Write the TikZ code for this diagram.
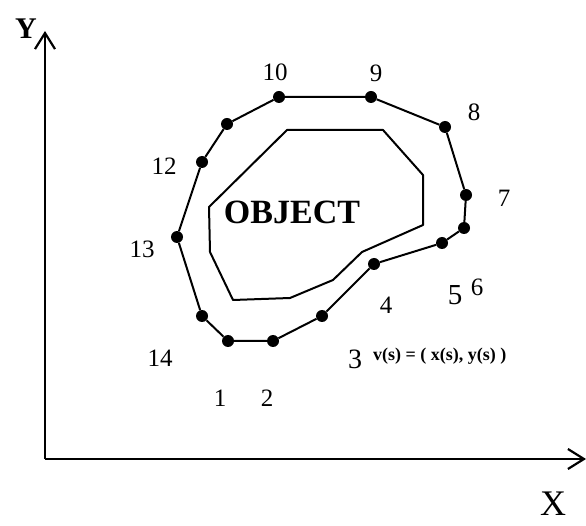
\documentclass[tikz,border=0pt]{standalone}
\usepackage{fontspec}
\setmainfont{Liberation Serif}
\usetikzlibrary{arrows.meta}
\usetikzlibrary{positioning}

\begin{document}
\begin{tikzpicture}[x=1pt, y=-1pt,
    dot/.style={circle, fill=black, inner sep=0pt, minimum size=12pt},
    snake/.style={line width=2pt, line join=round},
    axis/.style={line width=2.4pt, -{Straight Barb[length=16pt, width=20pt, line width=2.2pt]}},
    num/.style={font=\fontsize{25}{28}\selectfont},
    ]
    \useasboundingbox (0,0) rectangle (586,526);

    % Axes
    \coordinate (origin) at (45,459);
    \coordinate (ytip) at (45,31);
    \coordinate (xtip) at (586,459);
    \draw [axis] (origin) -- (ytip);
    \draw [axis] (origin) -- (xtip);
    \node [font=\fontsize{30}{32}\selectfont\bfseries] (ylab) at (26,29) {Y};
    \node [anchor=base, inner sep=0pt, font=\fontsize{36}{38}\selectfont] (xlab) at (553,515) {X};

    % Object outline
    \draw [snake] (287,130) -- (383,130) -- (423,175) -- (423,225) -- (362,252)
        -- (333,280) -- (290,298) -- (233,300) -- (210,252) -- (209,207) -- cycle;
    \node [font=\fontsize{34}{36}\selectfont\bfseries] (object) at (292,212) {OBJECT};

    % Snake points
    \node [dot] (p1) at (228,341) {};
    \node [dot] (p2) at (273,341) {};
    \node [dot] (p3) at (322,316) {};
    \node [dot] (p4) at (374,264) {};
    \node [dot] (p5) at (442,243) {};
    \node [dot] (p6) at (464,228) {};
    \node [dot] (p7) at (466,195) {};
    \node [dot] (p8) at (445,127) {};
    \node [dot] (p9) at (371,97) {};
    \node [dot] (p10) at (279,97) {};
    \node [dot] (p11) at (227,124) {};
    \node [dot] (p12) at (202,162) {};
    \node [dot] (p13) at (177,237) {};
    \node [dot] (p14) at (202,316) {};

    % Snake
    \draw [snake] (p1) -- (p2) -- (p3) -- (p4) -- (p5) -- (p6) -- (p7) -- (p8)
        -- (p9) -- (p10) -- (p11) -- (p12) -- (p13) -- (p14) -- (p1);

    % Labels
    \node [num] (l1) at (220,398) {1};
    \node [num] (l2) at (267,398) {2};
    \node [num, font=\fontsize{28}{30}\selectfont] (l3) at (355,359) {3};
    \node [num] (l4) at (386,305) {4};
    \node [num, font=\fontsize{29}{30}\selectfont] (l5) at (455,295) {5};
    \node [num] (l6) at (477,287) {6};
    \node [num] (l7) at (504,198) {7};
    \node [num] (l8) at (474,112) {8};
    \node [num] (l9) at (376,73) {9};
    \node [num] (l10) at (275,72) {10};
    \node [num] (l12) at (164,166) {12};
    \node [num] (l13) at (142,249) {13};
    \node [num] (l14) at (160,358) {14};
    \node [anchor=west, inner sep=0pt, font=\fontsize{18}{20}\selectfont\bfseries] (vs) at (373,356) {v(s) = ( x(s), y(s) )};

\end{tikzpicture}
\end{document}
